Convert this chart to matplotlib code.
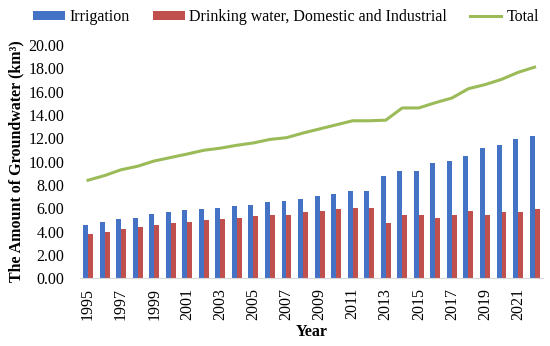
import matplotlib
matplotlib.use("Agg")
import numpy as np
import matplotlib.pyplot as plt

plt.rcParams["font.family"] = ["Liberation Serif", "DejaVu Serif"]

# 年份与各项地下水用量 (km³)
years = list(range(1995, 2023))
irrigation = [4.6, 4.8, 5.05, 5.2, 5.5, 5.65, 5.85, 5.97, 6.05, 6.2, 6.3, 6.5, 6.6, 6.8,
              7.05, 7.2, 7.5, 7.5, 8.8, 9.2, 9.2, 9.85, 10.05, 10.5, 11.2, 11.4, 11.95, 12.2]
drinking = [3.8, 4.0, 4.25, 4.4, 4.55, 4.7, 4.8, 5.0, 5.1, 5.2, 5.3, 5.4, 5.45, 5.65,
            5.75, 5.95, 6.0, 6.0, 4.75, 5.4, 5.4, 5.2, 5.4, 5.75, 5.4, 5.65, 5.7, 5.9]
total = [8.4, 8.8, 9.3, 9.6, 10.05, 10.35, 10.65, 10.97, 11.15, 11.4, 11.6, 11.9, 12.05, 12.45,
         12.8, 13.15, 13.5, 13.5, 13.55, 14.6, 14.6, 15.05, 15.45, 16.25, 16.6, 17.05, 17.65, 18.1]

x = np.arange(len(years))
w = 0.3

fig = plt.figure(figsize=(5.5, 3.46), dpi=100)
ax = fig.add_axes([0.145, 0.196, 0.842, 0.674])

b1 = ax.bar(x - w / 2, irrigation, width=w, color="#4472C4", label="Irrigation")
b2 = ax.bar(x + w / 2, drinking, width=w, color="#C0504D", label="Drinking water, Domestic and Industrial")
l1, = ax.plot(x, total, color="#9BBB59", lw=2.2, label="Total")

ax.set_xlim(-0.5, len(years) - 0.5)
ax.set_ylim(0, 20)
ax.set_yticks(np.arange(0, 20.01, 2))
ax.set_yticklabels([f"{v:.2f}" for v in np.arange(0, 20.01, 2)], fontsize=11.5)
ax.set_xticks(x[::2])
ax.set_xticklabels([str(y) for y in years[::2]], rotation=90, fontsize=11.5)
ax.tick_params(axis="y", length=0, pad=11)
ax.tick_params(axis="x", length=0, pad=7)

for s in ["top", "right", "left"]:
    ax.spines[s].set_visible(False)
ax.spines["bottom"].set_color("#D9D9D9")

ax.set_xlabel("Year", fontsize=11.5, fontweight="bold", labelpad=3)
ax.set_ylabel("The Amount of Groundwater (km³)", fontsize=11.5, fontweight="bold", labelpad=3)

fig.legend([b1, b2, l1], ["Irrigation", "Drinking water, Domestic and Industrial", "Total"],
           loc="upper center", bbox_to_anchor=(0.52, 1.015), ncol=3, frameon=False,
           fontsize=11.5, handlelength=2.0, handleheight=0.5, columnspacing=1.4, handletextpad=0.3)

plt.savefig("out.png", dpi=100)
plt.close("all")
